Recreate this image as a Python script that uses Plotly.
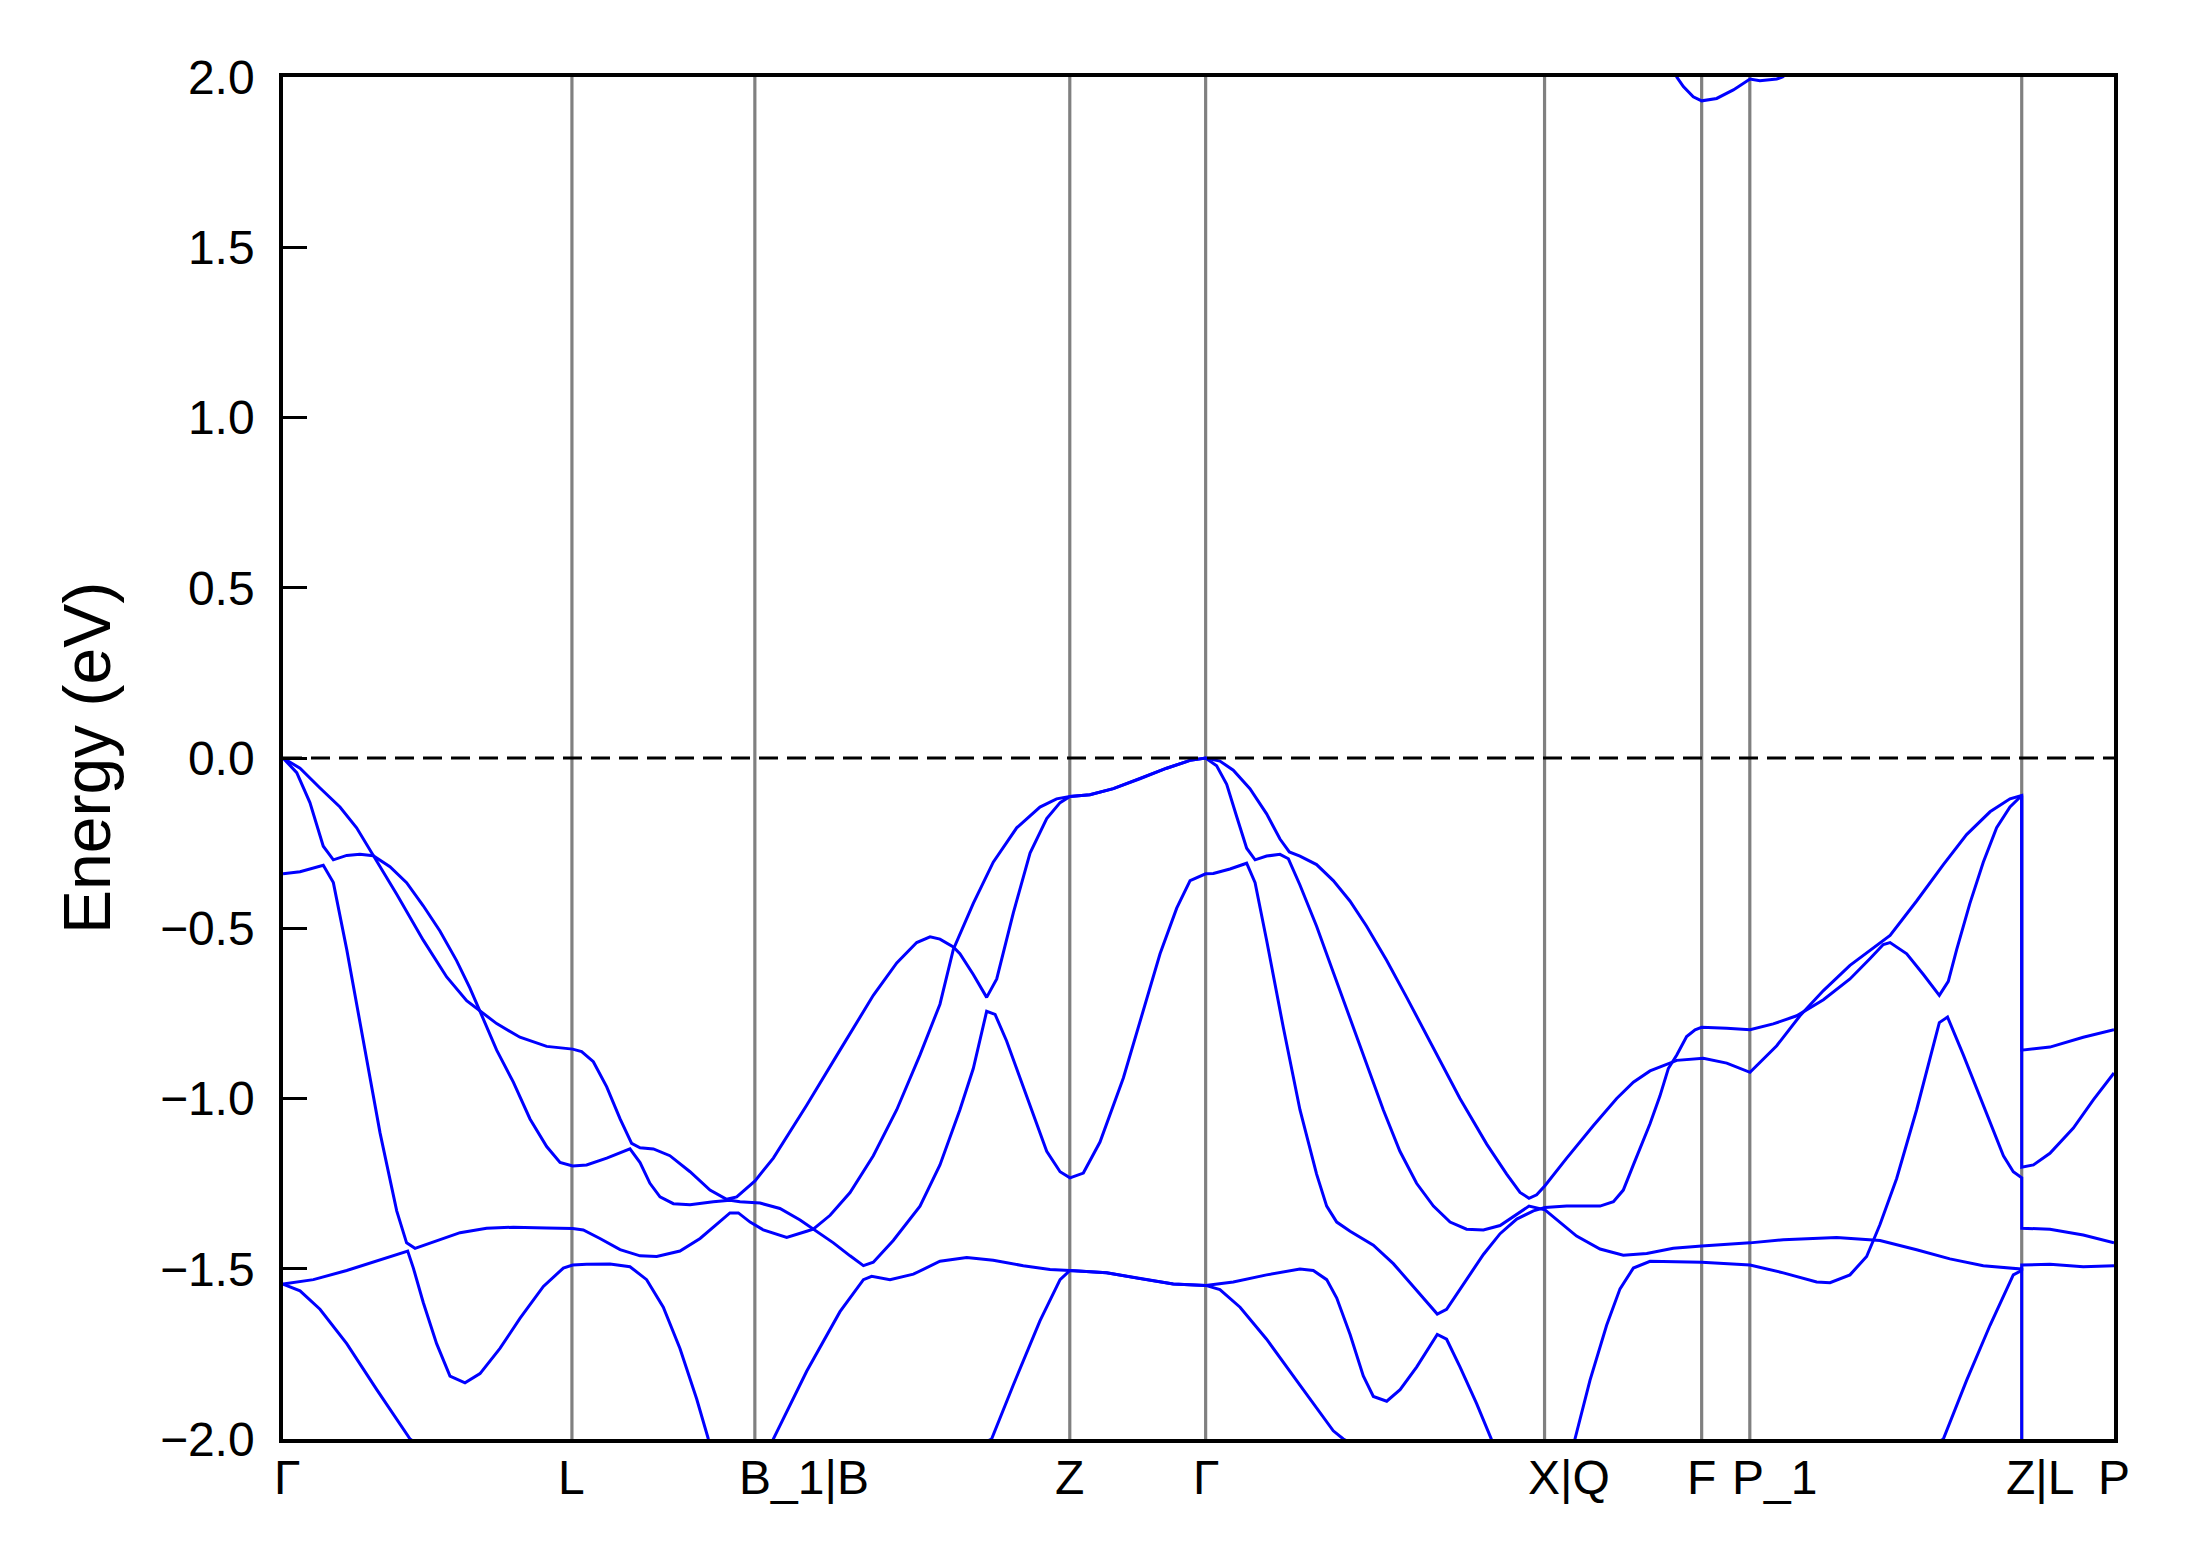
import plotly.graph_objects as go

# ---------------- data ----------------
# high-symmetry points along the k-path (fractional path length)
kpt_pos = [0.0, 0.1578, 0.2577, 0.4297, 0.5039, 0.6890, 0.7748, 0.8011, 0.9496, 1.0]
kpt_labels = ["Γ", "L", "B_1|B", "Z", "Γ", "X|Q", "F", "P_1", "Z|L", "P"]

y_ticks = [-2.0, -1.5, -1.0, -0.5, 0.0, 0.5, 1.0, 1.5, 2.0]

# bands: (k, E in eV)
band1 = [(0, 0), (.0093, -.030), (.0202, -.088), (.0311, -.144), (.0402, -.205), (.0493, -.286),
         (.0621, -.400), (.0766, -.535), (.0894, -.643), (.1003, -.713), (.1076, -.744), (.1167, -.780),
         (.1294, -.820), (.1440, -.847), (.1582, -.855), (.1631, -.862), (.1695, -.892), (.1768, -.966),
         (.1841, -1.060), (.1904, -1.132), (.1950, -1.145), (.2023, -1.148), (.2113, -1.168),
         (.2223, -1.215), (.2332, -1.269), (.2423, -1.296), (.2478, -1.289), (.2578, -1.242),
         (.2678, -1.175), (.2860, -1.020), (.3042, -.858), (.3224, -.697), (.3352, -.602),
         (.3461, -.542), (.3534, -.525), (.3588, -.532), (.3661, -.555), (.3697, -.575), (.3770, -.636),
         (.3843, -.703), (.3898, -.649), (.3989, -.454), (.4080, -.279), (.4171, -.178), (.4244, -.131),
         (.4298, -.113), (.4407, -.108), (.4535, -.090), (.4680, -.061), (.4826, -.030), (.4954, -.007),
         (.5039, 0), (.5117, -.009), (.5190, -.036), (.5281, -.090), (.5372, -.164), (.5445, -.238),
         (.5496, -.276), (.5554, -.288), (.5645, -.313), (.5736, -.360), (.5827, -.420), (.5918, -.494),
         (.6028, -.595), (.6137, -.703), (.6283, -.851), (.6428, -1.000), (.6574, -1.134),
         (.6683, -1.222), (.6756, -1.276), (.6805, -1.293), (.6847, -1.283), (.6892, -1.256),
         (.7011, -1.175), (.7156, -1.080), (.7284, -1.000), (.7375, -.952), (.7466, -.919),
         (.7557, -.899), (.7612, -.888), (.7757, -.882), (.7885, -.896), (.8012, -.923), (.8158, -.845),
         (.8285, -.757), (.8413, -.683), (.8558, -.609), (.8722, -.542), (.8777, -.521), (.8922, -.420),
         (.9068, -.313), (.9195, -.225), (.9323, -.158), (.9432, -.120), (.9496, -.110), (.9496, -.858),
         (.9650, -.849), (.9832, -.820), (1.0, -.798)]

band2 = [(0, 0), (.0075, -.043), (.0147, -.131), (.0220, -.259), (.0275, -.299), (.0348, -.286),
         (.0420, -.283), (.0493, -.287), (.0584, -.319), (.0675, -.366), (.0766, -.434), (.0857, -.508),
         (.0948, -.595), (.1021, -.676), (.1076, -.744), (.1167, -.858), (.1258, -.952), (.1349, -1.060),
         (.1440, -1.141), (.1513, -1.188), (.1582, -1.198), (.1658, -1.195), (.1768, -1.175),
         (.1895, -1.148), (.1950, -1.188), (.2004, -1.249), (.2059, -1.289), (.2132, -1.309),
         (.2223, -1.312), (.2350, -1.303), (.2441, -1.299), (.2496, -1.303), (.2605, -1.307),
         (.2714, -1.323), (.2824, -1.357), (.2896, -1.384), (.3006, -1.424), (.3097, -1.462),
         (.3170, -1.491), (.3224, -1.481), (.3333, -1.417), (.3479, -1.316), (.3588, -1.195),
         (.3697, -1.033), (.3770, -.912), (.3843, -.744), (.3889, -.753), (.3952, -.831), (.4062, -.993),
         (.4171, -1.155), (.4244, -1.215), (.4298, -1.233), (.4371, -1.219), (.4462, -1.128),
         (.4590, -.939), (.4680, -.777), (.4790, -.575), (.4881, -.441), (.4954, -.360), (.5039, -.340),
         (.5081, -.339), (.5172, -.326), (.5263, -.309), (.5309, -.366), (.5372, -.535), (.5463, -.791),
         (.5554, -1.033), (.5645, -1.222), (.5700, -1.316), (.5755, -1.363), (.5828, -1.390),
         (.5955, -1.431), (.6064, -1.485), (.6173, -1.552), (.6304, -1.633), (.6355, -1.619),
         (.6464, -1.532), (.6556, -1.458), (.6647, -1.397), (.6738, -1.354), (.6829, -1.330),
         (.6892, -1.320), (.7011, -1.316), (.7193, -1.316), (.7266, -1.303), (.7320, -1.269),
         (.7375, -1.195), (.7466, -1.074), (.7520, -.993), (.7566, -.912), (.7612, -.872), (.7666, -.818),
         (.7712, -.798), (.7748, -.791), (.7885, -.794), (.8012, -.798), (.8139, -.781), (.8267, -.757),
         (.8413, -.710), (.8558, -.649), (.8668, -.589), (.8740, -.548), (.8777, -.542), (.8868, -.575),
         (.8959, -.636), (.9046, -.697), (.9095, -.656), (.9141, -.562), (.9213, -.427), (.9286, -.306),
         (.9359, -.205), (.9432, -.144), (.9496, -.110), (.9496, -1.202), (.9560, -1.195),
         (.9650, -1.161), (.9778, -1.087), (.9887, -1.004), (1.0, -.925)]

band3 = [(0, -.340), (.0093, -.334), (.0220, -.315), (.0275, -.366), (.0348, -.562), (.0439, -.831),
         (.0530, -1.101), (.0621, -1.330), (.0675, -1.424), (.0721, -1.440), (.0821, -1.421),
         (.0967, -1.394), (.1112, -1.381), (.1258, -1.378), (.1440, -1.380), (.1582, -1.382),
         (.1640, -1.386), (.1731, -1.411), (.1841, -1.444), (.1950, -1.462), (.2041, -1.464),
         (.2168, -1.448), (.2278, -1.411), (.2368, -1.370), (.2441, -1.336), (.2487, -1.336),
         (.2551, -1.363), (.2623, -1.386), (.2751, -1.408), (.2860, -1.390), (.2896, -1.384),
         (.2988, -1.343), (.3097, -1.276), (.3224, -1.168), (.3352, -1.033), (.3479, -.872),
         (.3588, -.723), (.3661, -.562), (.3770, -.427), (.3879, -.306), (.4007, -.205), (.4134, -.144),
         (.4225, -.120), (.4298, -.113), (.4407, -.108), (.4535, -.090), (.4680, -.061), (.4826, -.030),
         (.4954, -.007), (.5039, 0), (.5099, -.023), (.5154, -.077), (.5208, -.171), (.5263, -.265),
         (.5309, -.299), (.5372, -.288), (.5445, -.283), (.5491, -.296), (.5554, -.373), (.5645, -.494),
         (.5736, -.629), (.5827, -.764), (.5918, -.899), (.6009, -1.033), (.6100, -1.155),
         (.6191, -1.249), (.6283, -1.316), (.6374, -1.363), (.6464, -1.384), (.6556, -1.386),
         (.6647, -1.373), (.6738, -1.340), (.6805, -1.316), (.6892, -1.327), (.6974, -1.363),
         (.7065, -1.404), (.7193, -1.442), (.7320, -1.460), (.7448, -1.455), (.7593, -1.440),
         (.7748, -1.433), (.8012, -1.424), (.8194, -1.415), (.8485, -1.408), (.8722, -1.417),
         (.8922, -1.444), (.9104, -1.471), (.9286, -1.491), (.9496, -1.501), (.9496, -1.489),
         (.9650, -1.487), (.9832, -1.494), (1.0, -1.491)]

band4 = [(0, -1.545), (.0166, -1.532), (.0348, -1.505), (.0530, -1.475), (.0681, -1.448), (.0712, -1.498),
         (.0766, -1.599), (.0839, -1.720), (.0912, -1.815), (.0994, -1.835), (.1076, -1.808),
         (.1185, -1.734), (.1294, -1.646), (.1422, -1.552), (.1531, -1.498), (.1582, -1.489),
         (.1658, -1.487), (.1786, -1.486), (.1895, -1.494), (.1986, -1.532), (.2077, -1.613),
         (.2168, -1.734), (.2259, -1.882), (.2323, -2.0), (.2500, -2.3), (.2678, -2.0), (.2860, -1.801),
         (.3042, -1.626), (.3170, -1.532), (.3215, -1.522), (.3315, -1.532), (.3443, -1.516),
         (.3588, -1.478), (.3734, -1.467), (.3879, -1.475), (.4043, -1.491), (.4189, -1.502),
         (.4298, -1.505), (.4498, -1.512), (.4680, -1.529), (.4862, -1.545), (.5039, -1.549),
         (.5190, -1.539), (.5372, -1.518), (.5554, -1.501), (.5627, -1.505), (.5700, -1.532),
         (.5755, -1.586), (.5828, -1.693), (.5900, -1.815), (.5955, -1.875), (.6028, -1.889),
         (.6101, -1.855), (.6192, -1.788), (.6304, -1.693), (.6355, -1.707), (.6428, -1.788),
         (.6519, -1.896), (.6601, -2.0), (.6830, -2.3), (.7056, -2.0), (.7138, -1.828), (.7229, -1.666),
         (.7302, -1.559), (.7375, -1.498), (.7466, -1.478), (.7748, -1.481), (.8012, -1.489),
         (.8194, -1.512), (.8376, -1.539), (.8449, -1.541), (.8558, -1.518), (.8649, -1.464),
         (.8722, -1.370), (.8813, -1.235), (.8922, -1.033), (.9046, -.777), (.9091, -.761),
         (.9177, -.872), (.9286, -1.020), (.9396, -1.168), (.9450, -1.215), (.9496, -1.233),
         (.9496, -1.381), (.9650, -1.384), (.9832, -1.401), (1.0, -1.424)]

band5 = [(0, -1.545), (.0093, -1.565), (.0202, -1.619), (.0348, -1.720), (.0512, -1.855), (.0694, -2.0),
         (.2000, -2.5), (.3870, -2.0), (.3988, -1.842), (.4134, -1.653), (.4244, -1.532), (.4298, -1.505),
         (.4498, -1.512), (.4680, -1.529), (.4862, -1.545), (.5039, -1.549), (.5117, -1.561),
         (.5227, -1.613), (.5372, -1.707), (.5554, -1.842), (.5736, -1.976), (.5791, -2.0),
         (.7500, -2.5), (.9068, -2.0), (.9195, -1.828), (.9323, -1.666), (.9450, -1.518),
         (.9496, -1.505), (.9496, -2.5), (1.0, -2.5)]

cond1 = [(.7560, 2.08), (.7612, 2.0), (.7648, 1.972), (.7702, 1.942), (.7748, 1.930), (.7830, 1.937),
         (.7921, 1.962), (.7994, 1.989), (.8012, 1.994), (.8066, 1.989), (.8158, 1.994), (.8190, 2.0),
         (.8300, 2.05)]

bands = [band1, band2, band3, band4, band5, cond1]

# ---------------- figure ----------------
W, H = 2189, 1567
FONT = "Liberation Sans, Arial, Helvetica, sans-serif"
fig = go.Figure()

for b in bands:
    fig.add_trace(go.Scatter(
        x=[p[0] for p in b], y=[p[1] for p in b], mode="lines",
        line=dict(color="#0000ff", width=3.0), hoverinfo="skip", showlegend=False))

# vertical lines at interior high-symmetry points
for k in kpt_pos[1:-1]:
    fig.add_shape(type="line", x0=k, x1=k, y0=-2, y1=2, xref="x", yref="y",
                  line=dict(color="#808080", width=3.2), layer="below")

# Fermi level
fig.add_shape(type="line", x0=0, x1=1, y0=0, y1=0, xref="x", yref="y",
              line=dict(color="black", width=3.0, dash="19px,9px"), layer="above")

# x labels (first character centred on the tick, as in the reference)
xshift = {"B_1|B": 49, "X|Q": 24, "P_1": 25, "Z|L": 18}
for i, (k, lab) in enumerate(zip(kpt_pos, kpt_labels)):
    sh = xshift.get(lab, 0)
    if i == 0:
        sh = 4
    fig.add_annotation(x=k, y=0, xref="x", yref="paper", text=lab, showarrow=False,
                       xanchor="center", yanchor="top", xshift=sh, yshift=-10,
                       font=dict(family=FONT, size=48, color="black"))

fig.add_annotation(x=0, y=0.5, xref="paper", yref="paper", text="Energy (eV)",
                   textangle=-90, showarrow=False, xanchor="center", yanchor="middle",
                   xshift=-196, font=dict(family=FONT, size=66, color="black"))

fig.update_xaxes(range=[0, 1], showgrid=False, zeroline=False, showline=True, mirror=True,
                 linecolor="black", linewidth=3.5, ticks="", showticklabels=False)
fig.update_yaxes(range=[-2, 2], tickvals=y_ticks, tickformat=".1f", showgrid=False, zeroline=False,
                 showline=True, mirror=True, linecolor="black", linewidth=3.5,
                 ticks="inside", ticklen=24, tickwidth=3.2, tickcolor="black",
                 ticklabelstandoff=15,
                 tickfont=dict(family=FONT, size=48, color="black"))

fig.update_layout(width=W, height=H, autosize=False,
                  margin=dict(l=283, r=75, t=77, b=128),
                  paper_bgcolor="white", plot_bgcolor="white",
                  font=dict(family=FONT, color="black"))

fig.write_html("out.html", config={"displayModeBar": False},
               post_script="document.body.style.margin='0';document.body.style.padding='0';")
